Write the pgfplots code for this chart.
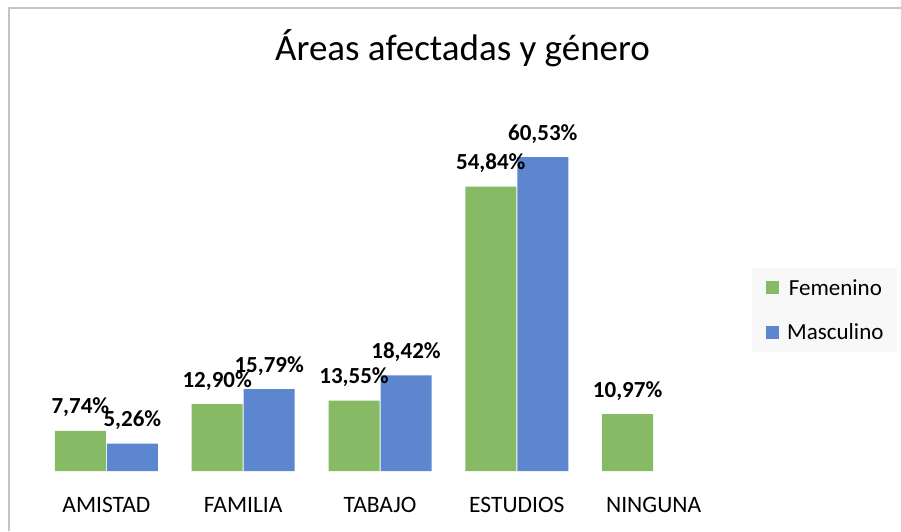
\documentclass[border=0pt]{standalone}
\usepackage{pgfplots}
\pgfplotsset{compat=1.18}
\usepackage{fontspec}
\setmainfont{Carlito}
\definecolor{fem}{RGB}{135,186,100}
\definecolor{masc}{RGB}{92,134,205}
\definecolor{axgray}{RGB}{89,89,89}
\definecolor{brd}{RGB}{196,196,196}
\definecolor{legfill}{RGB}{248,248,248}
\begin{document}
\begin{tikzpicture}
\useasboundingbox (0,0) rectangle (901pt,531pt);
\fill[white] (0,0) rectangle (901pt,531pt);
\draw[brd, line width=2pt] (8.5pt,0) -- (8.5pt,522.5pt) -- (901pt,522.5pt);
\begin{axis}[
  at={(38pt,60pt)}, anchor=south west,
  scale only axis, width=684pt, height=363pt,
  ymin=0, ymax=70, xmin=-0.5, xmax=4.5,
  axis x line*=bottom, axis y line*=left,
  axis line style={draw=none},
  ytick=\empty,
  xtick={0,1,2,3,4},
  xticklabels={AMISTAD,FAMILIA,TABAJO,ESTUDIOS,NINGUNA},
  major tick length=0pt,
  xticklabel style={anchor=base, yshift=-41pt, font=\fontsize{23.5}{28}\selectfont},
  ybar=1pt, bar width=51pt,
  nodes near coords={\pgfmathprintnumber[fixed,fixed zerofill,precision=2,use comma,assume math mode=true]{\pgfplotspointmeta}\%},
  every node near coord/.append style={anchor=base, yshift=17pt, font=\fontsize{23}{28}\selectfont\bfseries, text=black},
  title={Áreas afectadas y género},
  title style={at={(0.6206,1.114)}, anchor=base, font=\fontsize{37}{44}\selectfont},
  legend style={at={(1.0439,0.559)}, anchor=north west, draw=none, fill=legfill,
    inner xsep=14pt, inner ysep=11pt, row sep=27pt,
    nodes={inner sep=0pt, anchor=base}, font=\fontsize{23}{28}\selectfont},
  legend cell align=left,
  legend image code/.code={\fill[#1,draw=none] (0pt,1pt) rectangle (13pt,14pt); \path (21pt,0pt);},
]
\addplot[fill=fem, draw=none] coordinates {(0,7.74) (1,12.90) (2,13.55) (3,54.84) (4,10.97)};
\addplot[fill=masc, draw=none] coordinates {(0,5.26) (1,15.79) (2,18.42) (3,60.53)};
\legend{Femenino,Masculino}
\draw[axgray, line width=3.5pt] ([yshift=-2.5pt]axis cs:-0.5,0) -- ([yshift=-2.5pt]axis cs:4.5,0);
\end{axis}
\end{tikzpicture}
\end{document}
